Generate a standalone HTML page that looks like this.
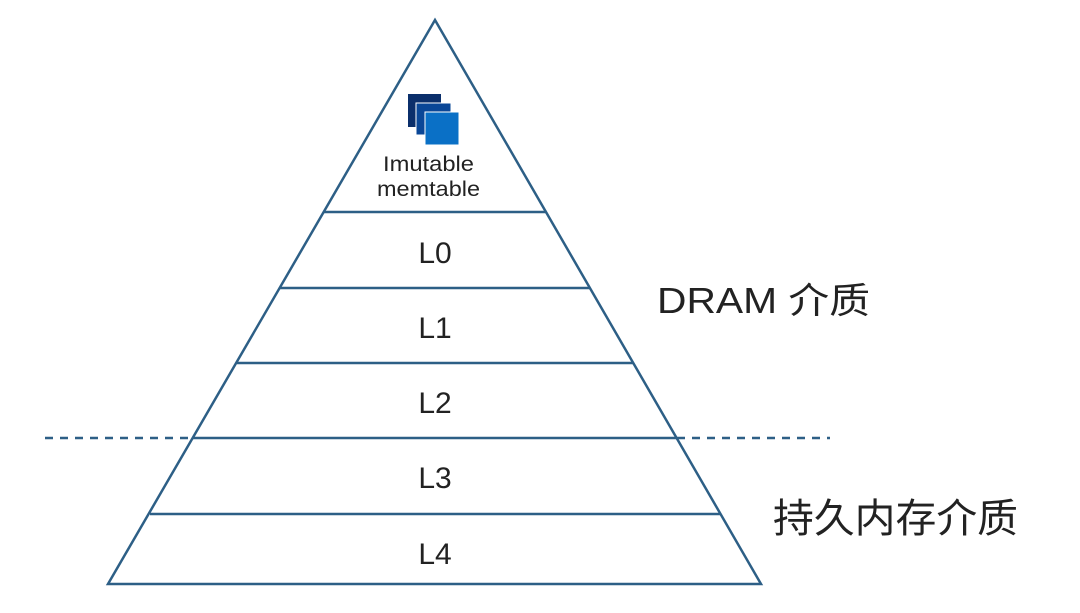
<!DOCTYPE html>
<html><head><meta charset="utf-8"><style>
body{margin:0;background:#fff;width:1080px;height:608px;overflow:hidden}
svg text{font-family:"Liberation Sans","Noto Sans CJK SC",sans-serif;fill:#222}
</style></head><body>
<svg width="1080" height="608" viewBox="0 0 1080 608">
<g stroke="#2d5f86" stroke-width="2.5" fill="none">
<polygon points="435,20 108,584 761,584"/>
<line x1="324" y1="212" x2="546" y2="212"/>
<line x1="280" y1="288" x2="590" y2="288"/>
<line x1="237" y1="363" x2="633" y2="363"/>
<line x1="193" y1="438" x2="677" y2="438"/>
<line x1="150" y1="514" x2="720" y2="514"/>
<line x1="45" y1="438" x2="193" y2="438" stroke-dasharray="8,7"/>
<line x1="677" y1="438" x2="830" y2="438" stroke-dasharray="8,7"/>
</g>
<rect x="408" y="94" width="33" height="33" fill="#0b2f6b"/>
<rect x="416" y="103" width="35" height="32" fill="#0a4797" stroke="#fff" stroke-width="1"/>
<rect x="425" y="112" width="34" height="33" fill="#0a70c6" stroke="#fff" stroke-width="1"/>
<text x="383" y="171" font-size="21" textLength="91" lengthAdjust="spacingAndGlyphs">Imutable</text>
<text x="377" y="196" font-size="21" textLength="103" lengthAdjust="spacingAndGlyphs">memtable</text>
<text x="435" y="263" font-size="30" text-anchor="middle">L0</text>
<text x="435" y="338" font-size="30" text-anchor="middle">L1</text>
<text x="435" y="413" font-size="30" text-anchor="middle">L2</text>
<text x="435" y="488" font-size="30" text-anchor="middle">L3</text>
<text x="435" y="564" font-size="30" text-anchor="middle">L4</text>
<text x="657" y="313" font-size="36" textLength="213" lengthAdjust="spacingAndGlyphs">DRAM 介质</text>
<text x="773" y="532" font-size="40" textLength="245" lengthAdjust="spacingAndGlyphs">持久内存介质</text>
</svg>
</body></html>
